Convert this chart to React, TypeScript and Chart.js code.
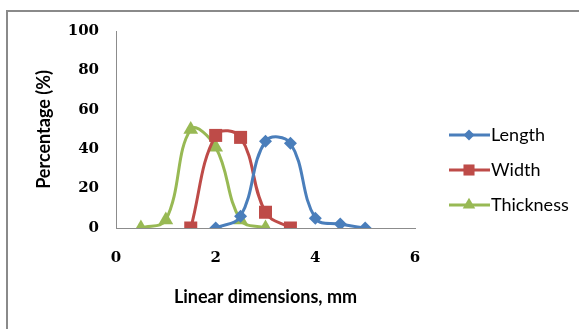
import React, { useEffect, useRef } from "react";
import { Chart, registerables } from "chart.js";

Chart.register(...registerables);

const lengthX = [2, 2.5, 3, 3.5, 4, 4.5, 5];
const lengthY = [0, 6, 44, 43, 5, 2, 0];
const widthX = [1.5, 2, 2.5, 3, 3.5];
const widthY = [0, 47, 46, 8, 0];
const thickX = [0.5, 1, 1.5, 2, 2.5, 3];
const thickY = [0, 4, 50, 41, 4, 0];

const seriesNames = ["Length", "Width", "Thickness"];
const seriesColors = ["#4A7EBB", "#BE4B48", "#98B954"];
const pointStyles = ["rectRot", "rect", "triangle"];
const pointRadii = [6.5, 9.2, 8.5];

const xTitle = "Linear dimensions, mm";
const yTitle = "Percentage (%)";

function toPoints(xs: number[], ys: number[]) {
  return xs.map((x, i) => ({ x, y: ys[i] }));
}

function drawMarker(ctx: CanvasRenderingContext2D, style: string, x: number, y: number, r: number) {
  ctx.beginPath();
  if (style === "rectRot") {
    ctx.moveTo(x, y - r);
    ctx.lineTo(x + r, y);
    ctx.lineTo(x, y + r);
    ctx.lineTo(x - r, y);
  } else if (style === "rect") {
    const s = r * Math.SQRT1_2;
    ctx.rect(x - s, y - s, 2 * s, 2 * s);
  } else {
    ctx.moveTo(x, y - r);
    ctx.lineTo(x + (Math.sqrt(3) / 2) * r, y + r / 2);
    ctx.lineTo(x - (Math.sqrt(3) / 2) * r, y + r / 2);
  }
  ctx.closePath();
  ctx.fill();
}

const legendPlugin = {
  id: "excelLegend",
  afterDraw(chart: any) {
    const ctx = chart.ctx as CanvasRenderingContext2D;
    const area = chart.chartArea;
    const x0 = area.right + 34;
    const y0 = area.top + 104;
    ctx.save();
    seriesNames.forEach((name, i) => {
      const y = y0 + i * 35;
      ctx.strokeStyle = seriesColors[i];
      ctx.fillStyle = seriesColors[i];
      ctx.lineWidth = 3;
      ctx.beginPath();
      ctx.moveTo(x0, y);
      ctx.lineTo(x0 + 41, y);
      ctx.stroke();
      drawMarker(ctx, pointStyles[i], x0 + 20, y, pointRadii[i] * 0.85);
      ctx.fillStyle = "#000";
      ctx.font = "18px Lato";
      ctx.textBaseline = "middle";
      ctx.textAlign = "left";
      ctx.fillText(name, x0 + 42, y);
    });
    ctx.restore();
  },
};

export default function App() {
  const ref = useRef<HTMLCanvasElement>(null);
  useEffect(() => {
    document.body.style.margin = "0";
    const xsList = [lengthX, widthX, thickX];
    const ysList = [lengthY, widthY, thickY];
    const chart = new Chart(ref.current!, {
      type: "scatter",
      data: {
        datasets: seriesNames.map((name, i) => ({
          label: name,
          data: toPoints(xsList[i], ysList[i]),
          showLine: true,
          borderColor: seriesColors[i],
          backgroundColor: seriesColors[i],
          borderWidth: 3,
          tension: 0.4,
          pointStyle: pointStyles[i] as any,
          pointRadius: pointRadii[i],
          pointBorderWidth: 0,
          pointHoverRadius: pointRadii[i],
        })),
      },
      options: {
        animation: false,
        responsive: false,
        maintainAspectRatio: false,
        layout: { padding: { top: 31, right: 164, left: 0, bottom: 0 } },
        plugins: {
          legend: { display: false },
          tooltip: { enabled: false },
        },
        scales: {
          x: {
            type: "linear",
            min: 0,
            max: 6,
            ticks: {
              stepSize: 2,
              padding: 21,
              color: "#000",
              font: { family: "DejaVu Serif", size: 15, weight: "bold" },
            },
            grid: { display: false, drawTicks: false },
            border: { display: true, color: "#8c8c8c", width: 1 },
            title: {
              display: true,
              text: xTitle,
              color: "#000",
              font: { family: "Lato", size: 18, weight: "bold" },
              padding: { top: 0, bottom: 21 },
            },
            afterFit(scale: any) {
              scale.height = 101;
            },
          },
          y: {
            min: 0,
            max: 100,
            ticks: {
              stepSize: 20,
              padding: 17,
              color: "#000",
              font: { family: "DejaVu Serif", size: 15, weight: "bold" },
            },
            grid: { display: false, drawTicks: false },
            border: { display: true, color: "#8c8c8c", width: 1 },
            title: {
              display: true,
              text: yTitle,
              color: "#000",
              font: { family: "Lato", size: 18, weight: "bold" },
              padding: { top: 33, bottom: 0 },
            },
            afterFit(scale: any) {
              scale.width = 116;
            },
          },
        },
      },
      plugins: [legendPlugin],
    });
    return () => chart.destroy();
  }, []);
  return (
    <div style={{ position: "relative", width: 579, height: 329, overflow: "hidden", background: "#fff" }}>
      <div
        style={{
          position: "absolute",
          left: 6,
          top: 10,
          width: 700,
          height: 500,
          border: "2px solid #8a8a8a",
          boxSizing: "border-box",
        }}
      />
      <canvas ref={ref} width={579} height={329} style={{ position: "absolute", left: 0, top: 0 }} />
    </div>
  );
}
